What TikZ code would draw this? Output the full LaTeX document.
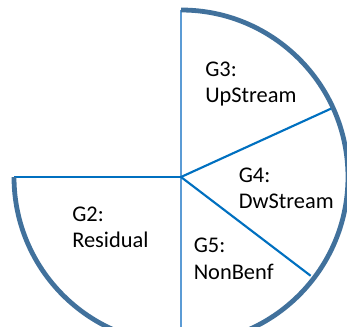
\documentclass[tikz,border=0pt]{standalone}
\usepackage{fontspec}
\setmainfont{Carlito}
\usetikzlibrary{calc}
\definecolor{rimblue}{RGB}{65,113,156}
\definecolor{spokeblue}{RGB}{0,112,192}
\definecolor{axisblue}{RGB}{91,155,213}
\begin{document}
\begin{tikzpicture}[x=0.75pt, y=0.75pt,
	rim/.style={rimblue, line width=3.6pt},
	spoke/.style={spokeblue, line width=1.6pt},
	axis/.style={axisblue, line width=1.8pt},
	group/.style={anchor=base west, inner sep=0pt, align=left, font=\fontsize{16.8}{19.9}\selectfont}]
		\useasboundingbox (0,0) rectangle (347,326);
		\coordinate (c) at (181,149);
		\coordinate (top) at ($(c)+(90:167)$);
		\coordinate (left) at ($(c)+(180:167)$);
		\coordinate (bot) at ($(c)+(-90:170)$);
		\coordinate (up) at ($(c)+(24.5:166)$);
		\coordinate (dw) at ($(c)+(-37.3:163)$);

		\draw[axis] (top) -- (bot);
		\draw[spoke] (left) -- (c);
		\draw[spoke] (c) -- (up);
		\draw[spoke] (c) -- (dw);
		\draw[rim] (top) arc[start angle=90, end angle=-180, radius=167];

		% base anchor sits on the second line
		\node[group] (g3) at (205,223.3) {G3:\\UpStream};
		\node[group] (g4) at (238.5,117.3) {G4:\\DwStream};
		\node[group] (g5) at (193.5,46.7) {G5:\\NonBenf};
		\node[group] (g2) at (72,78.3) {G2:\\Residual};
\end{tikzpicture}
\end{document}
